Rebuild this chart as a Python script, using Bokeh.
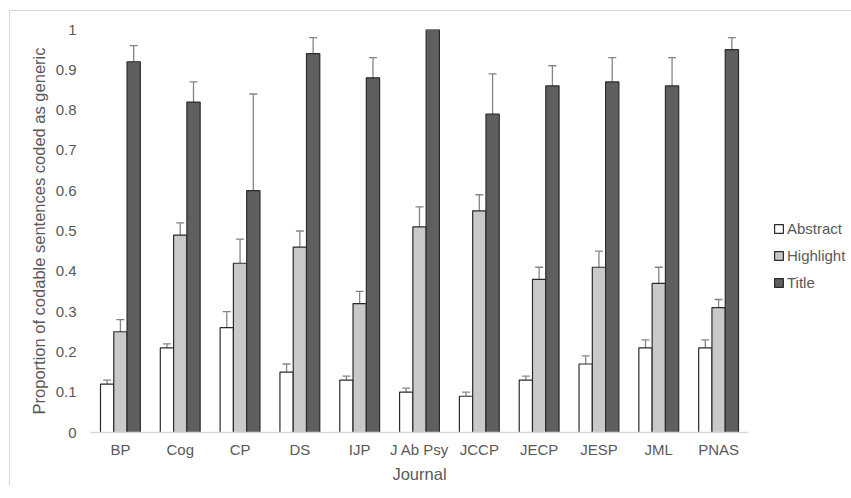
from bokeh.plotting import figure
from bokeh.models import (ColumnDataSource, FactorRange, Whisker, Legend, LegendItem, TeeHead,
                          NumeralTickFormatter, FixedTicker)
from bokeh.transform import dodge
from bokeh.embed import file_html
from bokeh.resources import INLINE

journals = ["BP", "Cog", "CP", "DS", "IJP", "J Ab Psy", "JCCP", "JECP", "JESP", "JML", "PNAS"]
series = ["Abstract", "Highlight", "Title"]
abstract = [0.12, 0.21, 0.26, 0.15, 0.13, 0.10, 0.09, 0.13, 0.17, 0.21, 0.21]
abstract_err = [0.01, 0.01, 0.04, 0.02, 0.01, 0.01, 0.01, 0.01, 0.02, 0.02, 0.02]
highlight = [0.25, 0.49, 0.42, 0.46, 0.32, 0.51, 0.55, 0.38, 0.41, 0.37, 0.31]
highlight_err = [0.03, 0.03, 0.06, 0.04, 0.03, 0.05, 0.04, 0.03, 0.04, 0.04, 0.02]
title = [0.92, 0.82, 0.60, 0.94, 0.88, 1.00, 0.79, 0.86, 0.87, 0.86, 0.95]
title_err = [0.04, 0.05, 0.24, 0.04, 0.05, 0.0, 0.10, 0.05, 0.06, 0.07, 0.03]
y_ticks = [0, 0.1, 0.2, 0.3, 0.4, 0.5, 0.6, 0.7, 0.8, 0.9, 1]

FONT = "Liberation Sans"
TXT = "#595959"
fills = ["#ffffff", "#c9c9c9", "#5f5f5f"]
offsets = [-0.222, 0.0, 0.222]
values = [abstract, highlight, title]
errors = [abstract_err, highlight_err, title_err]

p = figure(x_range=FactorRange(*journals), y_range=(0, 1),
           frame_width=658, frame_height=403, output_backend="svg", toolbar_location=None,
           min_border_left=80, min_border_right=95, min_border_top=18, min_border_bottom=50)
p.styles = {"margin-left": "9px", "margin-top": "10px",
            "border-left": "1px solid #d9d9d9", "border-top": "1px solid #d9d9d9"}

items = []
for name, vals, fill, off in zip(series, values, fills, offsets):
    src = ColumnDataSource(dict(x=journals, top=vals))
    r = p.vbar(x=dodge("x", off, range=p.x_range), top="top", width=0.222, source=src,
               fill_color=fill, line_color="#2b2b2b", line_width=1.2)
    items.append(LegendItem(label=name, renderers=[r]))

for vals, errs, off in zip(values, errors, offsets):
    xs = [j for j, e in zip(journals, errs) if e > 0]
    ups = [v + e for v, e in zip(vals, errs) if e > 0]
    los = [v - e for v, e in zip(vals, errs) if e > 0]
    esrc = ColumnDataSource(dict(x=xs, upper=ups, lower=los))
    w = Whisker(base=dodge("x", off, range=p.x_range), upper="upper", lower="lower", source=esrc,
                line_color="#858585", line_width=1.3,
                upper_head=TeeHead(size=8, line_color="#858585", line_width=1.3),
                lower_head=TeeHead(size=8, line_color="#858585", line_width=1.3))
    p.add_layout(w)

legend = Legend(items=items, location=(25, 141), padding=0, margin=0, spacing=10,
                label_height=16, glyph_height=11, glyph_width=11, label_standoff=3,
                border_line_alpha=0, background_fill_alpha=0,
                label_text_font=FONT, label_text_font_size="15px", label_text_color=TXT)
p.add_layout(legend, "right")

p.xgrid.grid_line_color = None
p.ygrid.grid_line_color = None
p.outline_line_color = None

p.yaxis.ticker = FixedTicker(ticks=y_ticks)
p.yaxis.formatter = NumeralTickFormatter(format="0.[0]")
p.yaxis.axis_line_color = None
p.yaxis.major_tick_line_color = None
p.yaxis.minor_tick_line_color = None
p.yaxis.major_tick_in = 0
p.yaxis.major_tick_out = 0
p.yaxis.major_label_standoff = 14
p.yaxis.axis_label = "Proportion of codable sentences coded as generic"
p.yaxis.axis_label_standoff = 5

p.xaxis.axis_line_color = "#d9d9d9"
p.xaxis.axis_line_width = 1.5
p.xaxis.major_tick_line_color = None
p.xaxis.minor_tick_line_color = None
p.xaxis.major_tick_in = 0
p.xaxis.major_tick_out = 0
p.xaxis.major_label_standoff = 8
p.xaxis.axis_label = "Journal"
p.xaxis.axis_label_standoff = 4

for ax in (p.xaxis, p.yaxis):
    ax.major_label_text_font = FONT
    ax.major_label_text_font_size = "15px"
    ax.major_label_text_color = TXT
    ax.axis_label_text_font = FONT
    ax.axis_label_text_font_size = "16.5px"
    ax.axis_label_text_font_style = "normal"
    ax.axis_label_text_color = TXT

open("out.html", "w").write(file_html(p, INLINE))
